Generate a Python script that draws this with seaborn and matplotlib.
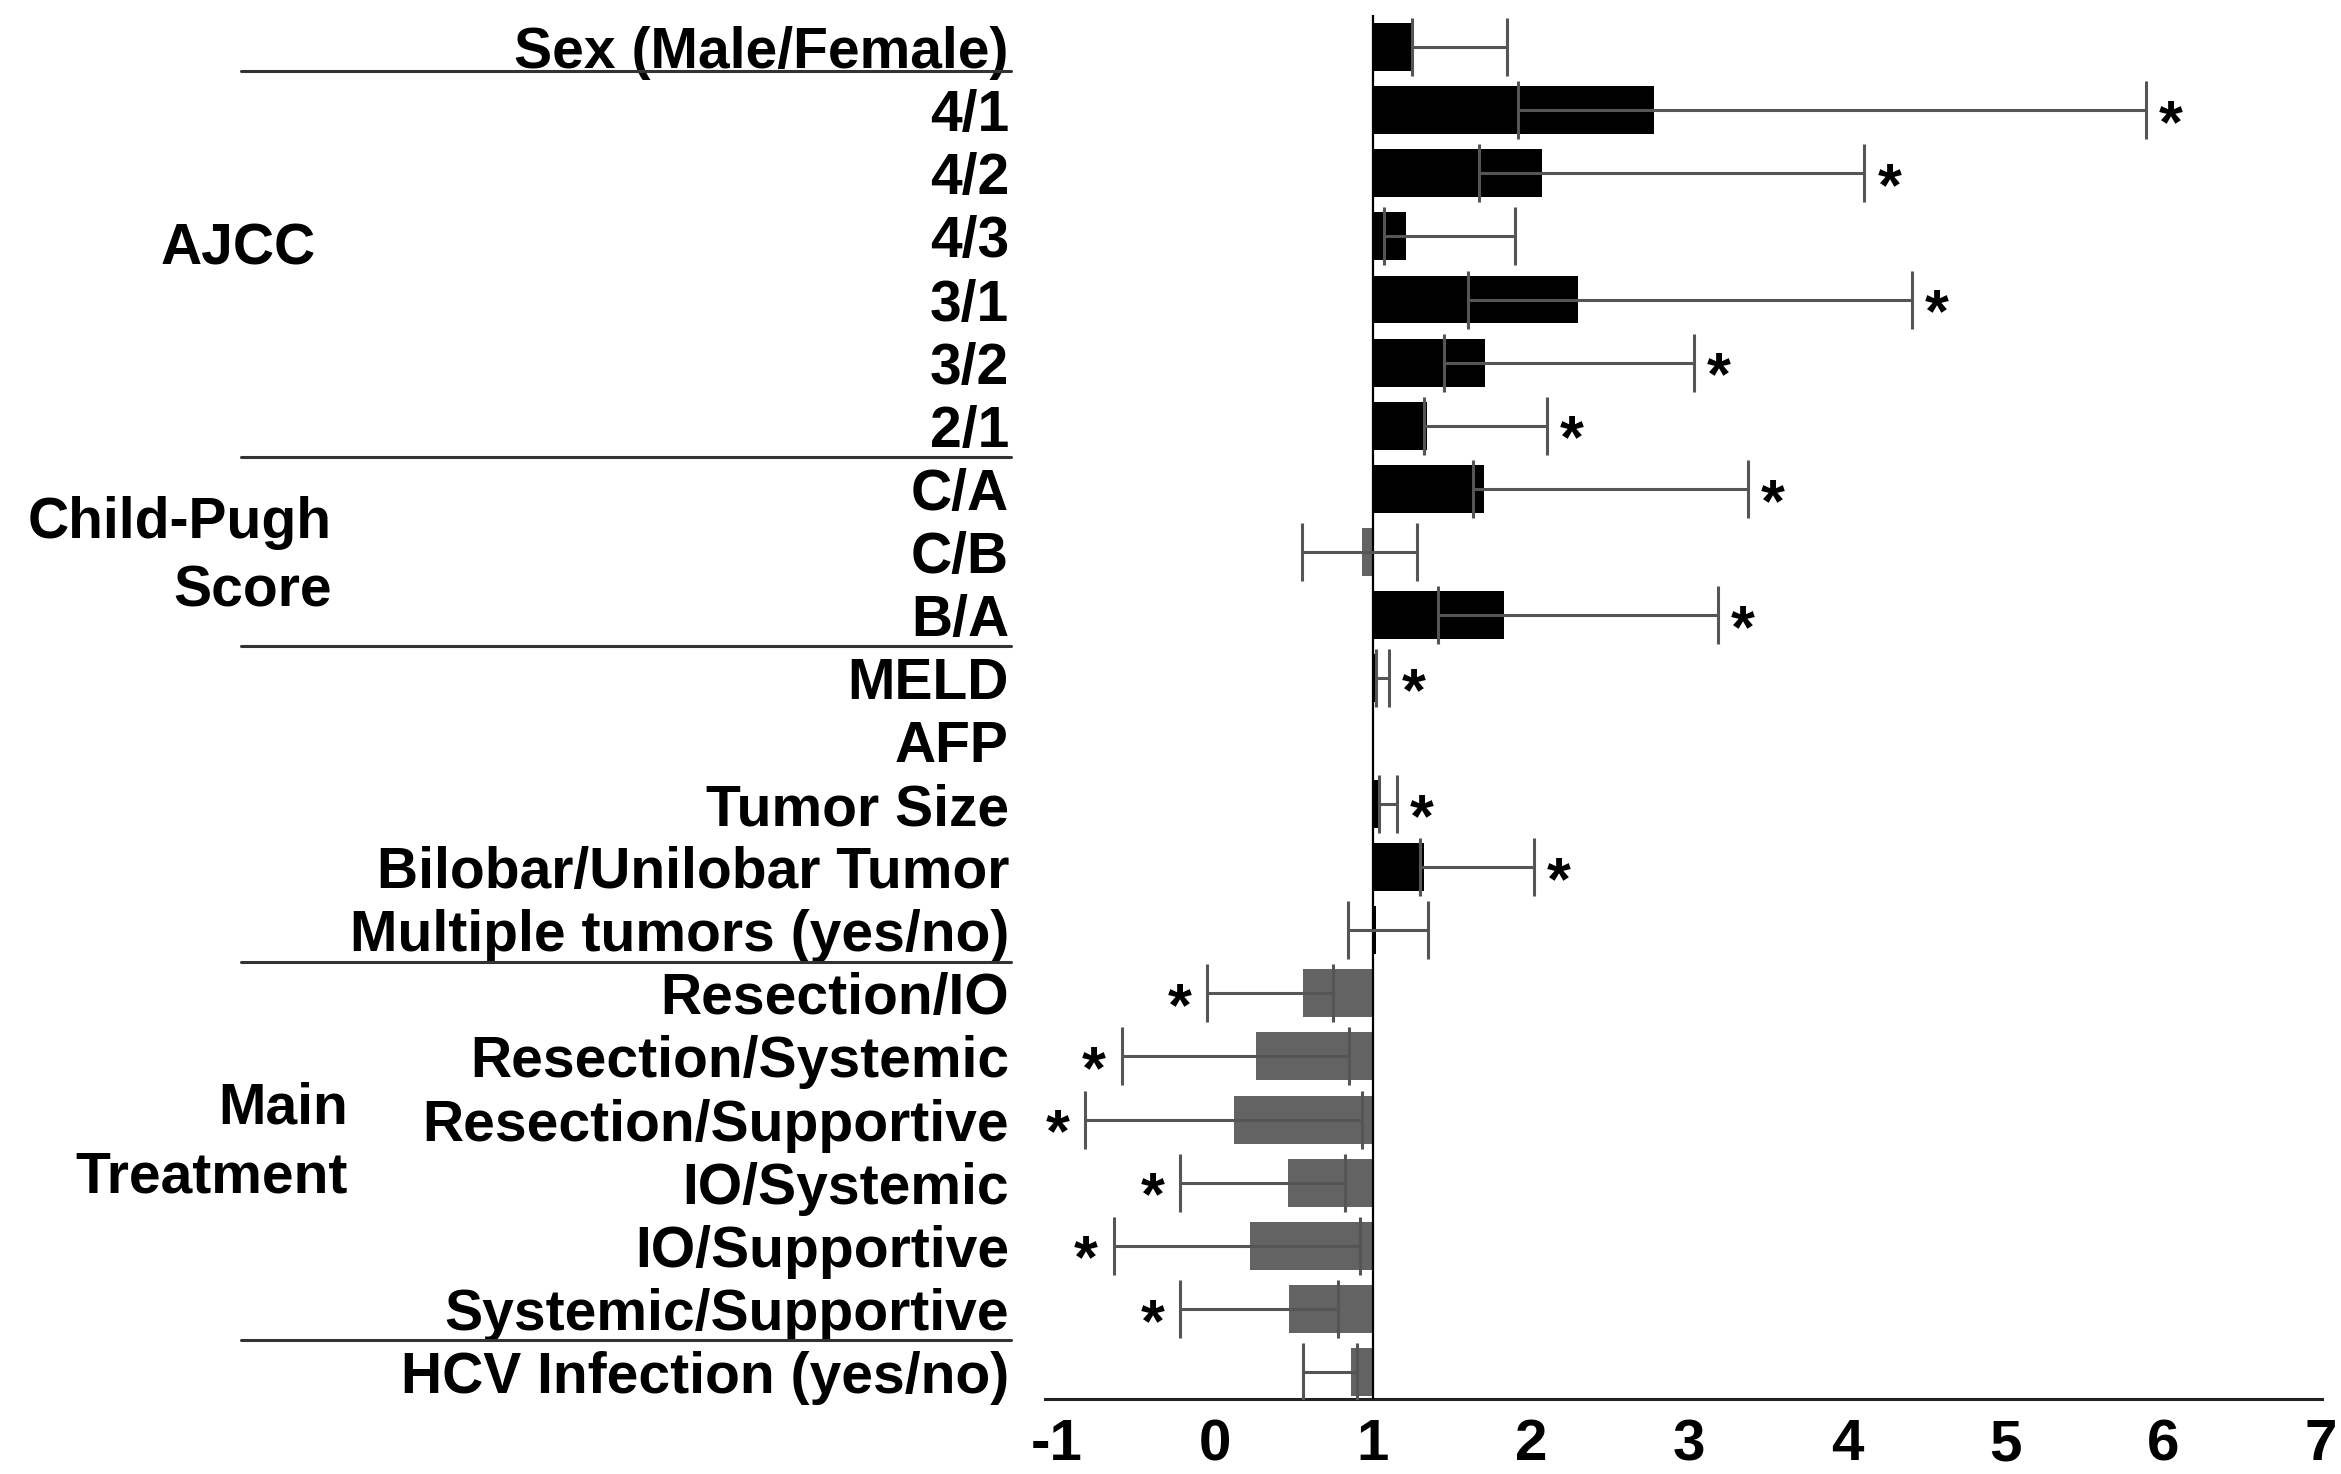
import numpy as np
import pandas as pd
import matplotlib
matplotlib.use("Agg")
import matplotlib.pyplot as plt
import matplotlib.transforms as mtransforms
from matplotlib.ticker import FuncFormatter, FixedLocator
import seaborn as sns

# Odds ratios with 95% confidence limits for each predictor
variables = [
    "Sex (Male/Female)", "4/1", "4/2", "4/3", "3/1", "3/2", "2/1",
    "C/A", "C/B", "B/A", "MELD", "AFP", "Tumor Size",
    "Bilobar/Unilobar Tumor", "Multiple tumors (yes/no)",
    "Resection/IO", "Resection/Systemic", "Resection/Supportive",
    "IO/Systemic", "IO/Supportive", "Systemic/Supportive",
    "HCV Infection (yes/no)",
]
odds_ratio = [1.25, 2.78, 2.07, 1.21, 2.30, 1.71, 1.34,
              1.70, 0.93, 1.83, 1.03, 1.00, 1.05,
              1.32, 1.02,
              0.56, 0.26, 0.12, 0.46, 0.22, 0.47,
              0.86]
ci_lower = [1.25, 1.92, 1.67, 1.07, 1.60, 1.45, 1.32,
            1.63, 0.55, 1.41, 1.02, np.nan, 1.04,
            1.30, 0.84,
            -0.05, -0.59, -0.82, -0.22, -0.64, -0.22,
            0.56]
ci_upper = [1.85, 5.89, 4.11, 1.90, 4.41, 3.03, 2.10,
            3.37, 1.28, 3.18, 1.10, np.nan, 1.15,
            2.02, 1.35,
            0.75, 0.85, 0.93, 0.82, 0.92, 0.78,
            0.90]
significant = [False, True, True, False, True, True, True,
               True, False, True, True, False, True,
               True, False,
               True, True, True, True, True, True,
               False]

# Grouped predictors (row span of each group)
group_names = ["AJCC", "Child-Pugh\nScore", "Main\nTreatment"]
group_first = [1, 7, 15]
group_last = [6, 9, 20]
separator_after = [0, 6, 9, 14, 20]

x_ticks = [-1, 0, 1, 2, 3, 4, 5, 6, 7]
reference_or = 1.0

sns.set_theme(style="white")
plt.rcParams["font.family"] = ["Liberation Sans", "DejaVu Sans"]
plt.rcParams["text.color"] = "black"
plt.rcParams["xtick.color"] = "black"
plt.rcParams["ytick.color"] = "black"
plt.rcParams["xtick.labelcolor"] = "black"
plt.rcParams["ytick.labelcolor"] = "black"

df = pd.DataFrame({
    "variable": variables,
    "odds_ratio": odds_ratio,
    "lower": ci_lower,
    "upper": ci_upper,
    "significant": significant,
})
# bars grow from the reference line at OR = 1
df["shift"] = df["odds_ratio"] - reference_or
df["tone"] = np.where(df["odds_ratio"] < reference_or, "below", "above")

fig = plt.figure(figsize=(23.41, 14.74), dpi=100)
ax = fig.add_axes([0.4464, 0.0509, 0.5455, 0.9389])

sns.barplot(data=df, x="shift", y="variable", hue="tone", orient="h",
            palette={"above": "#000000", "below": "#636363"},
            dodge=False, legend=False, width=0.76, saturation=1,
            linewidth=0, ax=ax)

rows = np.arange(len(df))
ok = df["lower"].notna().to_numpy()
err_lo = (df["odds_ratio"] - df["lower"]).to_numpy()
err_hi = (df["upper"] - df["odds_ratio"]).to_numpy()
ax.errorbar(df["shift"][ok], rows[ok], xerr=[err_lo[ok], err_hi[ok]],
            fmt="none", ecolor="#555555", elinewidth=2.2, capsize=21,
            capthick=2.2, zorder=5)

# significance markers beyond the far end of each interval
for i, r in df.iterrows():
    if not r["significant"]:
        continue
    if r["odds_ratio"] >= reference_or:
        xpos, dx = r["upper"] - reference_or, 18
    else:
        xpos, dx = r["lower"] - reference_or, -20
    ax.annotate("*", xy=(xpos, i), xytext=(dx, -23), textcoords="offset points",
                ha="center", va="baseline", fontsize=44, fontweight="bold",
                color="black", zorder=6)

ax.axvline(0, color="black", lw=1.6, zorder=4)

ax.set_xlim(-1.075 - reference_or, 7.005 - reference_or)
ax.set_ylim(len(df) - 1 + 0.43, -0.51)
ax.xaxis.set_major_locator(FixedLocator([t - reference_or for t in x_ticks]))
ax.xaxis.set_major_formatter(FuncFormatter(lambda v, p: f"{v + reference_or:g}"))
ax.tick_params(axis="x", length=0, pad=14, labelcolor="black")
ax.tick_params(axis="y", length=0, pad=26, labelcolor="black")
for lab in ax.get_xticklabels():
    lab.set_fontsize(42)
    lab.set_fontweight("bold")
for lab in ax.get_yticklabels():
    lab.set_fontsize(41)
    lab.set_fontweight("bold")
ax.set_xlabel("")
ax.set_ylabel("")

for side in ["top", "right", "left"]:
    ax.spines[side].set_visible(False)
ax.spines["bottom"].set_color("#222222")
ax.spines["bottom"].set_linewidth(2.2)

# group separators and group titles to the left of the labels
trans = mtransforms.blended_transform_factory(fig.transFigure, ax.transData)
for k in separator_after:
    ypos = k + (0.37 if k == 0 else 0.5)
    ax.plot([0.103, 0.432], [ypos, ypos], transform=trans, color="#333333",
            lw=2.2, clip_on=False)

group_right = [0.1348, 0.1416, 0.1486]
group_shift = [-0.3, 0.08, -0.13]
for name, a, b, xr, dy in zip(group_names, group_first, group_last,
                              group_right, group_shift):
    ax.text(xr, (a + b) / 2 + dy, name, transform=trans, ha="right",
            va="center", fontsize=41, fontweight="bold", linespacing=1.35,
            multialignment="right", color="black")

fig.savefig("out.png", dpi=100, facecolor="white")
